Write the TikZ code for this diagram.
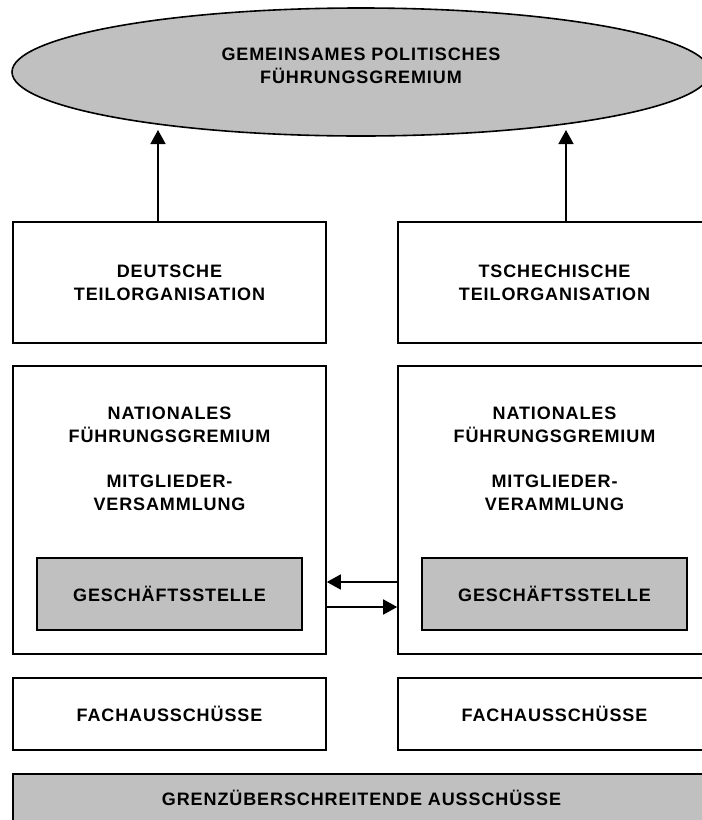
\documentclass[tikz,border=0pt]{standalone}
\usepackage{fontspec}
\setmainfont{Liberation Sans}[LetterSpace=5]
\usetikzlibrary{arrows.meta,shapes.geometric}
\definecolor{boxgray}{HTML}{C0C0C0}
\begin{document}
\begin{tikzpicture}[x=1pt,y=-1pt,
  every node/.style={font=\fontsize{18}{23}\selectfont\bfseries, align=center, inner sep=0pt},
  box/.style={draw, line width=1.6pt},
  graybox/.style={box, fill=boxgray},
  colbox/.style={box, minimum width=313pt},
  arr/.style={line width=1.6pt, -{Triangle[width=15pt,length=14pt]}}]
\useasboundingbox (0,0) rectangle (702,820);
\clip (0,0) rectangle (702,820);

% joint steering body
\node[graybox, ellipse, minimum width=698pt, minimum height=128pt] (top) at (361,72) {};
\node (toptext) at (361,66) {GEMEINSAMES POLITISCHES\\FÜHRUNGSGREMIUM};

% national sub-organisations
\node[colbox, minimum height=121pt] (de) at (169.5,282.5) {DEUTSCHE\\TEILORGANISATION};
\node[colbox, minimum height=121pt] (cz) at (554.5,282.5) {TSCHECHISCHE\\TEILORGANISATION};

% national bodies
\node[colbox, minimum height=288pt] (nde) at (169.5,510) {};
\node[colbox, minimum height=288pt] (ncz) at (554.5,510) {};
\node (nde1) at (169.5,425) {NATIONALES\\FÜHRUNGSGREMIUM};
\node (nde2) at (169.5,493) {MITGLIEDER-\\VERSAMMLUNG};
\node (ncz1) at (554.5,425) {NATIONALES\\FÜHRUNGSGREMIUM};
\node (ncz2) at (554.5,493) {MITGLIEDER-\\VERAMMLUNG};

% offices
\node[graybox, minimum width=265pt, minimum height=72pt] (gde) at (169.5,594) {GESCHÄFTSSTELLE};
\node[graybox, minimum width=265pt, minimum height=72pt] (gcz) at (554.5,594) {GESCHÄFTSSTELLE};

% committees
\node[colbox, minimum height=72pt] (fde) at (169.5,714) {FACHAUSSCHÜSSE};
\node[colbox, minimum height=72pt] (fcz) at (554.5,714) {FACHAUSSCHÜSSE};
\node[graybox, minimum width=697pt, minimum height=48pt] (gr) at (361.5,798) {GRENZÜBERSCHREITENDE AUSSCHÜSSE};

% connectors
\coordinate (tl) at (158,130);
\coordinate (tr) at (566,130);
\draw[arr] (tl |- de.north) -- (tl);
\draw[arr] (tr |- cz.north) -- (tr);
\draw[arr] (ncz.west |- 0,582) -- (nde.east |- 0,582);
\draw[arr] (nde.east |- 0,607) -- (ncz.west |- 0,607);
\end{tikzpicture}
\end{document}
